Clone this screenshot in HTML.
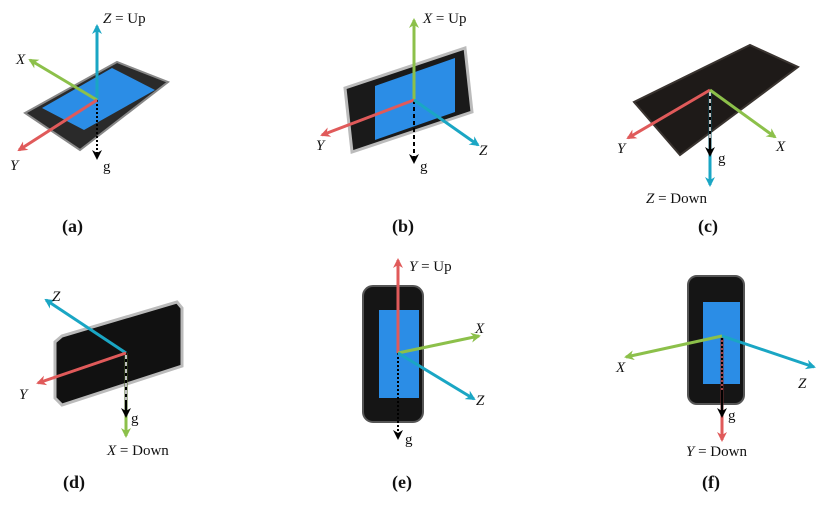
<!DOCTYPE html>
<html><head><style>
html,body{margin:0;padding:0;background:#fff;width:822px;height:512px;overflow:hidden}
text{font-family:"Liberation Serif",serif;font-size:15px;fill:#111}
.it{font-style:italic}
.cap{font-size:18px;font-weight:bold}
</style></head><body>
<svg width="822" height="512" viewBox="0 0 822 512" xmlns="http://www.w3.org/2000/svg">
<defs>
<marker id="r" markerWidth="10" markerHeight="10" refX="8" refY="5" orient="auto" markerUnits="userSpaceOnUse"><path d="M0,0 L10,5 L0,10 L3,5Z" fill="#e05a5a"/></marker>
<marker id="gr" markerWidth="10" markerHeight="10" refX="8" refY="5" orient="auto" markerUnits="userSpaceOnUse"><path d="M0,0 L10,5 L0,10 L3,5Z" fill="#8cc04a"/></marker>
<marker id="c" markerWidth="10" markerHeight="10" refX="8" refY="5" orient="auto" markerUnits="userSpaceOnUse"><path d="M0,0 L10,5 L0,10 L3,5Z" fill="#1aa6c4"/></marker>
<marker id="k" markerWidth="10" markerHeight="10" refX="8" refY="5" orient="auto" markerUnits="userSpaceOnUse"><path d="M0,0 L10,5 L0,10 L3,5Z" fill="#000"/></marker>
</defs>
<g stroke-width="3" fill="none">
<!-- (a) -->
<polygon points="25,113 117,62 168,82 80,150" fill="#2a2a2a" stroke="#888" stroke-width="2"/>
<polygon points="42,108 112,68 155,90 84,130" fill="#2b8de6" stroke="none"/>
<line x1="97" y1="100" x2="97" y2="158" stroke="#000" stroke-width="2" stroke-dasharray="2,2" marker-end="url(#k)"/>
<line x1="97" y1="100" x2="97" y2="26" stroke="#1aa6c4" marker-end="url(#c)"/>
<line x1="97" y1="100" x2="30" y2="60" stroke="#8cc04a" marker-end="url(#gr)"/>
<line x1="97" y1="100" x2="19" y2="150" stroke="#e05a5a" marker-end="url(#r)"/>
<!-- (b) -->
<polygon points="345,88 465,48 472,112 352,152" fill="#1a1a1a" stroke="#bbb" stroke-width="3"/>
<polygon points="375,86 455,58 455,112 375,140" fill="#2b8de6" stroke="none"/>
<line x1="414" y1="100" x2="414" y2="162" stroke="#000" stroke-width="2" stroke-dasharray="4,3" marker-end="url(#k)"/>
<line x1="414" y1="100" x2="414" y2="20" stroke="#8cc04a" marker-end="url(#gr)"/>
<line x1="414" y1="100" x2="322" y2="135" stroke="#e05a5a" marker-end="url(#r)"/>
<line x1="414" y1="100" x2="478" y2="145" stroke="#1aa6c4" marker-end="url(#c)"/>
<!-- (c) -->
<polygon points="634,102 750,45 798,67 680,155" fill="#1e1a18" stroke="#3a3430" stroke-width="2"/>
<line x1="710" y1="90" x2="710" y2="185" stroke="#1aa6c4" marker-end="url(#c)"/>
<line x1="710" y1="92" x2="710" y2="155" stroke="#000" stroke-width="2.5" marker-end="url(#k)"/>
<line x1="710" y1="92" x2="710" y2="140" stroke="#fff" stroke-width="1.5" stroke-dasharray="4,3"/>
<line x1="710" y1="90" x2="628" y2="138" stroke="#e05a5a" marker-end="url(#r)"/>
<line x1="710" y1="90" x2="775" y2="137" stroke="#8cc04a" marker-end="url(#gr)"/>
<!-- (d) -->
<polygon points="62,336 177,302 182,308 182,366 62,405 55,398 55,342" fill="#111" stroke="#bbb" stroke-width="3"/>
<line x1="126" y1="353" x2="126" y2="436" stroke="#8cc04a" marker-end="url(#gr)"/>
<line x1="126" y1="353" x2="126" y2="416" stroke="#000" stroke-width="2.5" marker-end="url(#k)"/>
<line x1="126" y1="355" x2="126" y2="400" stroke="#fff" stroke-width="1.5" stroke-dasharray="4,3"/>
<line x1="126" y1="353" x2="46" y2="300" stroke="#1aa6c4" marker-end="url(#c)"/>
<line x1="126" y1="353" x2="38" y2="383" stroke="#e05a5a" marker-end="url(#r)"/>
<!-- (e) -->
<rect x="363" y="286" width="60" height="136" rx="10" fill="#151515" stroke="#555" stroke-width="2"/>
<rect x="379" y="310" width="40" height="88" fill="#2b8de6" stroke="none"/>
<line x1="398" y1="353" x2="398" y2="438" stroke="#000" stroke-width="2" stroke-dasharray="2,2" marker-end="url(#k)"/>
<line x1="398" y1="353" x2="398" y2="260" stroke="#e05a5a" marker-end="url(#r)"/>
<line x1="398" y1="353" x2="479" y2="336" stroke="#8cc04a" marker-end="url(#gr)"/>
<line x1="398" y1="353" x2="474" y2="399" stroke="#1aa6c4" marker-end="url(#c)"/>
<!-- (f) -->
<rect x="688" y="276" width="56" height="128" rx="9" fill="#151515" stroke="#555" stroke-width="2"/>
<rect x="703" y="302" width="37" height="82" fill="#2b8de6" stroke="none"/>
<line x1="722" y1="336" x2="722" y2="440" stroke="#e05a5a" marker-end="url(#r)"/>
<line x1="722" y1="336" x2="722" y2="416" stroke="#000" stroke-width="2.5" marker-end="url(#k)"/>
<line x1="722" y1="336" x2="722" y2="390" stroke="#e05a5a" stroke-width="1.5" stroke-dasharray="2,2"/>
<line x1="722" y1="336" x2="626" y2="357" stroke="#8cc04a" marker-end="url(#gr)"/>
<line x1="722" y1="336" x2="814" y2="367" stroke="#1aa6c4" marker-end="url(#c)"/>
</g>
<text x="103" y="23"><tspan class="it">Z</tspan> = Up</text>
<text x="16" y="64" class="it">X</text>
<text x="10" y="170" class="it">Y</text>
<text x="103" y="171">g</text>
<text x="62" y="232" class="cap">(a)</text>
<text x="423" y="23"><tspan class="it">X</tspan> = Up</text>
<text x="316" y="150" class="it">Y</text>
<text x="479" y="155" class="it">Z</text>
<text x="420" y="171">g</text>
<text x="392" y="232" class="cap">(b)</text>
<text x="646" y="203"><tspan class="it">Z</tspan> = Down</text>
<text x="617" y="153" class="it">Y</text>
<text x="776" y="151" class="it">X</text>
<text x="718" y="163">g</text>
<text x="698" y="232" class="cap">(c)</text>
<text x="52" y="301" class="it">Z</text>
<text x="19" y="399" class="it">Y</text>
<text x="131" y="423">g</text>
<text x="107" y="455"><tspan class="it">X</tspan> = Down</text>
<text x="63" y="488" class="cap">(d)</text>
<text x="409" y="271"><tspan class="it">Y</tspan> = Up</text>
<text x="475" y="333" class="it">X</text>
<text x="476" y="405" class="it">Z</text>
<text x="405" y="444">g</text>
<text x="392" y="488" class="cap">(e)</text>
<text x="616" y="372" class="it">X</text>
<text x="798" y="388" class="it">Z</text>
<text x="728" y="420">g</text>
<text x="686" y="456"><tspan class="it">Y</tspan> = Down</text>
<text x="702" y="488" class="cap">(f)</text>
</svg>
</body></html>
